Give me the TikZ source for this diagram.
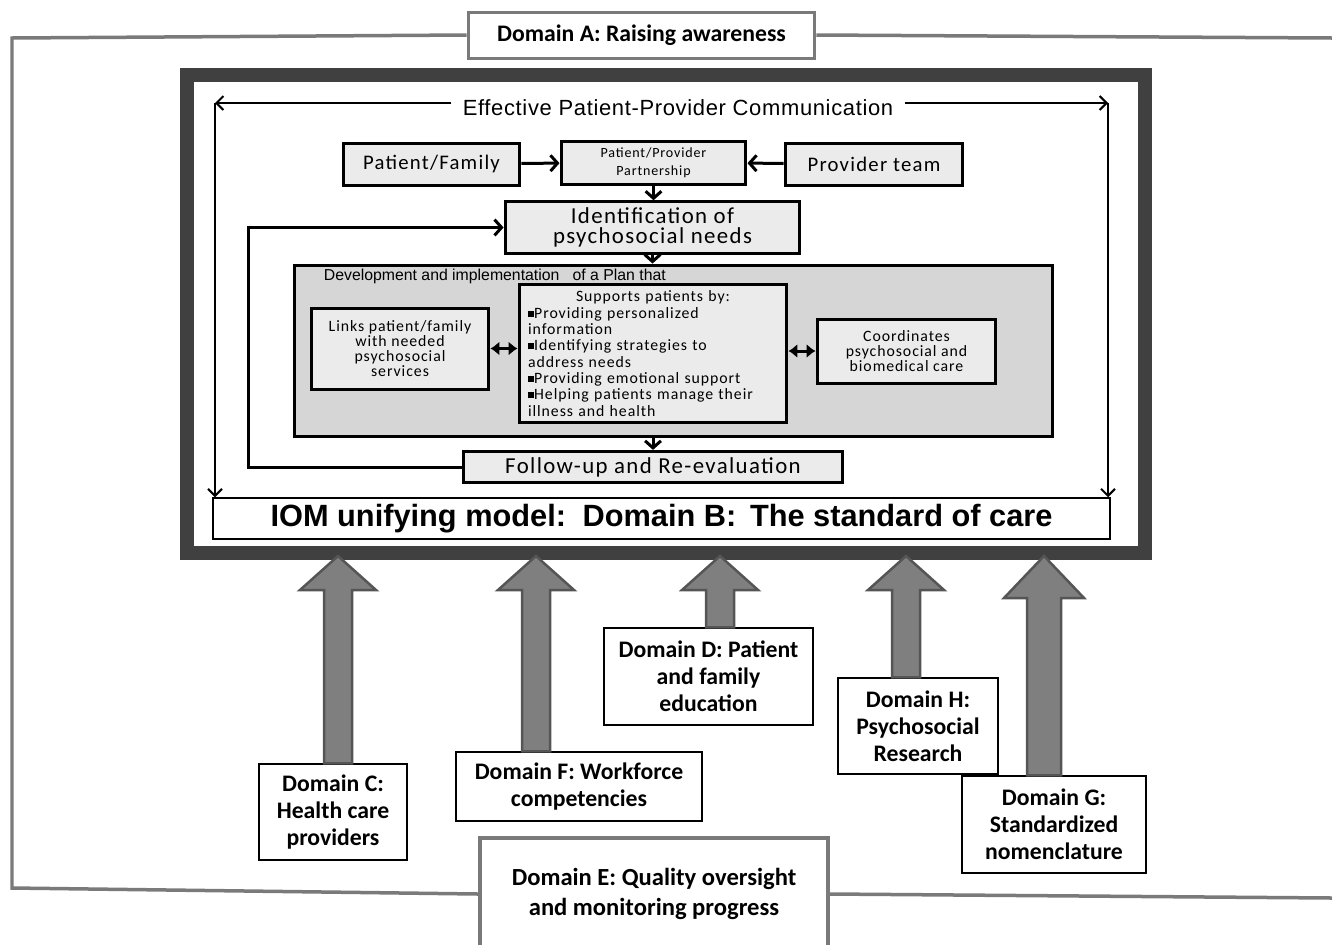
\documentclass[tikz,border=0pt]{standalone}
\usepackage{fontspec}
\setmainfont{Carlito}
\newfontfamily\arialfont{Liberation Sans}
\newfontfamily\arialwide{Liberation Sans}[LetterSpace=3]
\newfontfamily\boxfont{Carlito}[LetterSpace=6]
\usetikzlibrary{arrows.meta,calc}

\definecolor{framegray}{HTML}{404040}
\definecolor{linegray}{HTML}{7A7A7A}
\definecolor{arrowfill}{HTML}{7F7F7F}
\definecolor{arrowline}{HTML}{555555}
\definecolor{boxfill}{HTML}{EBEBEB}
\definecolor{planfill}{HTML}{D6D6D6}

\newcommand{\bul}{\rule[0.8pt]{3.5pt}{3.5pt}}

\tikzset{
  frameline/.style={draw=linegray, line width=0.07cm},
  domainbox/.style={draw=black, fill=white, line width=0.03cm, align=center,
    font=\bfseries\fontsize{13.5}{15.5}\selectfont},
  stepbox/.style={draw=black, fill=boxfill, line width=0.06cm, align=center,
    font=\boxfont\fontsize{11.8}{11}\selectfont},
  smallbox/.style={stepbox, font=\boxfont\fontsize{9}{8.6}\selectfont},
  flow/.style={line width=0.06cm, -{Straight Barb[length=4pt,width=9pt]}},
  comm/.style={line width=0.04cm, -{Straight Barb[length=4pt,width=8pt]}},
  dbl/.style={line width=0.06cm, {Latex[length=5pt,width=8pt]}-{Latex[length=5pt,width=8pt]}},
  blockarrow/.style={fill=arrowfill, draw=arrowline, line width=0.05cm, line join=miter}
}

\begin{document}
\begin{tikzpicture}[x=0.02cm,y=-0.02cm]
  \useasboundingbox (0,0) rectangle (1332,944);
  \clip (0,0) rectangle (1332,944);

  % Domain A and E with the outer frame
  \node[domainbox, draw=linegray, line width=0.06cm, minimum width=6.94cm, minimum height=0.92cm] (domA) at (641.5,35) {Domain A: Raising awareness};
  \node[domainbox, draw=linegray, line width=0.08cm, minimum width=6.96cm, minimum height=2.24cm,
    font=\bfseries\fontsize{14}{17}\selectfont] (domE) at (654,894) {Domain E: Quality oversight\\and monitoring progress};
  \draw[frameline] (domA.west) -- (12,38) -- (12,888) -- (domE.west);
  \draw[frameline] (domA.east) -- (1332,38);
  \draw[frameline] (domE.east) -- (1332,898);

  % the standard of care
  \draw[draw=framegray, fill=white, line width=0.28cm] (187,75) rectangle (1145,553);
  \node[draw=black, line width=0.04cm, minimum width=17.94cm, minimum height=0.66cm,
    font=\arialfont\bfseries\fontsize{17.5}{17.5}\selectfont] (iom) at (661.5,518.5)
    {IOM unifying model:\, Domain B:\, The standard of care};
  \node[font=\arialwide\fontsize{12.5}{13}\selectfont, inner sep=0.22cm] (commtxt) at (678,108)
    {Effective Patient-Provider Communication};
  \coordinate (cornerL) at (215,103);
  \coordinate (cornerR) at (1108,103);
  \draw[comm] (commtxt.west |- cornerL) -- (cornerL);
  \draw[comm] (cornerL) -- (cornerL |- iom.north);
  \draw[comm] (commtxt.east |- cornerR) -- (cornerR);
  \draw[comm] (cornerR) -- (cornerR |- iom.north);

  \node[stepbox, minimum width=3.54cm, minimum height=0.84cm] (pf) at (431.5,164) {Patient/Family};
  \node[stepbox, minimum width=3.7cm, minimum height=0.86cm,
    font=\boxfont\fontsize{8}{10}\selectfont] (pp) at (653.5,162.5) {Patient/Provider\\Partnership};
  \node[stepbox, minimum width=3.56cm, minimum height=0.84cm] (pt) at (874,164) {Provider team};
  \node[stepbox, minimum width=5.9cm, minimum height=0.82cm, font=\boxfont\fontsize{13}{11.5}\selectfont] (idn) at (652.5,227.5)
    {Identification of\\psychosocial needs};

  \node[draw=black, fill=planfill, line width=0.06cm, minimum width=15.18cm, minimum height=3.44cm] (plan) at (673.5,351) {};
  \node[anchor=north west, inner sep=0pt, font=\arialfont\fontsize{9}{10}\selectfont] (plantitle)
    at ($(plan.north west)+(31,5)$) {Development and implementation\ \ \ of a Plan that};
  \node[smallbox, minimum width=3.56cm, minimum height=1.62cm] (links) at (400,348.5)
    {Links patient/family\\with needed\\psychosocial\\services};
  \node[smallbox, minimum width=5.36cm, minimum height=2.66cm, text width=5.0cm, align=left,
    font=\boxfont\fontsize{9}{9.3}\selectfont] (sup) at (653,353.5)
    {\makebox[5.0cm]{Supports patients by:}\\
     \bul Providing personalized\\
     information\\
     \bul Identifying strategies to\\
     address needs\\
     \bul Providing emotional support\\
     \bul Helping patients manage their\\
     illness and health};
  \node[smallbox, minimum width=3.58cm, minimum height=1.28cm] (coord) at (906.5,351)
    {Coordinates\\psychosocial and\\biomedical care};
  \node[stepbox, minimum width=7.6cm, minimum height=0.56cm, font=\boxfont\fontsize{13}{13}\selectfont] (fu) at (653,467) {Follow-up and Re-evaluation};

  \draw[flow] (pf) -- (pp);
  \draw[flow] (pt) -- (pp);
  \draw[flow] (pp.south) -- (pp.south |- idn.north);
  \draw[flow] (idn.south) -- (idn.south |- plan.north);
  \draw[flow] (plan.south -| fu.north) -- (fu.north);
  \draw[flow] (fu.west) -- ++(-213,0) |- (idn.west);
  \draw[dbl] (links.east) -- (links.east -| sup.west);
  \draw[dbl] (sup.east |- coord.west) -- (coord.west);

  % domains feeding the standard of care
  \node[domainbox, minimum width=2.96cm, minimum height=1.92cm] (domC) at (333,812) {Domain C:\\Health care\\providers};
  \node[domainbox, minimum width=4.92cm, minimum height=1.38cm] (domF) at (579,786.5) {Domain F: Workforce\\competencies};
  \node[domainbox, minimum width=4.18cm, minimum height=1.94cm] (domD) at (708.5,676.5) {Domain D: Patient\\and family\\education};
  \node[domainbox, minimum width=3.2cm, minimum height=1.92cm] (domH) at (918,726) {Domain H:\\Psychosocial\\Research};
  \node[domainbox, minimum width=3.68cm, minimum height=1.94cm] (domG) at (1054,824.5) {Domain G:\\Standardized\\nomenclature};

  \foreach \dom/\cx/\sw/\hw/\hb in {domC/338/14/38/590, domF/536/14/38/590, domD/720/14/38/590,
                                    domH/906/14/38/590, domG/1044/17/40/598}
    \filldraw[blockarrow] let \p1=(\dom.north) in
      (\cx-\sw,\y1) -- (\cx-\sw,\hb) -- (\cx-\hw,\hb) -- (\cx,556) -- (\cx+\hw,\hb) -- (\cx+\sw,\hb) -- (\cx+\sw,\y1) -- cycle;
\end{tikzpicture}
\end{document}
